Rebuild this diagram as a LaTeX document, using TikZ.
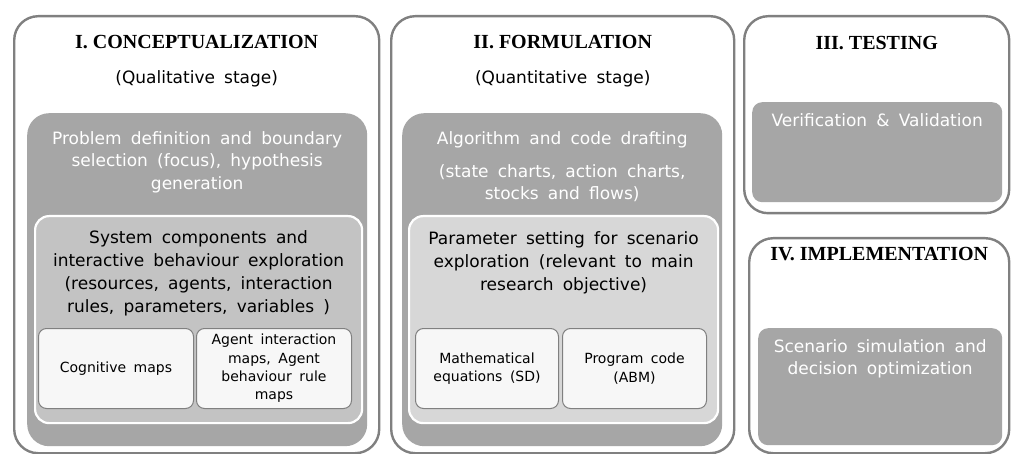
\documentclass[tikz,border=0pt]{standalone}
\usepackage{fontspec}
\setmainfont{DejaVu Sans}[WordSpace=1.7]
\newfontfamily\headfont{Liberation Serif}
\usetikzlibrary{positioning}

\definecolor{rimgray}{HTML}{808080}
\definecolor{darkfill}{HTML}{A6A6A6}
\definecolor{midfill}{HTML}{C3C3C3}
\definecolor{lightfill}{HTML}{D7D7D7}
\definecolor{leaffill}{HTML}{F7F7F7}

\begin{document}
\begin{tikzpicture}[x=1pt, y=-1pt, node distance = 20pt, on grid,
    stage/.style = {draw=rimgray, line width=2.4pt, fill=white, rounded corners=24pt,
                    anchor=north west, inner sep=0pt},
    darkbox/.style = {fill=darkfill, rounded corners=22pt, anchor=north west, inner sep=0pt},
    innerbox/.style = {draw=white, line width=2.2pt, rounded corners=14pt, anchor=north west, inner sep=0pt},
    leaf/.style = {draw=rimgray, line width=1pt, fill=leaffill, rounded corners=8pt,
                   anchor=north west, inner sep=0pt},
    heading/.style = {font=\headfont\bfseries\fontsize{20}{22}\selectfont},
    sub/.style = {font=\fontsize{17}{20}\selectfont},
    whitetext/.style = {text=white, align=center, font=\fontsize{17}{22.5}\selectfont},
    blacktext/.style = {align=center, font=\fontsize{17}{23}\selectfont},
    leaftext/.style = {align=center, font=\fontsize{14}{18.3}\selectfont}]
  \useasboundingbox (0,0) rectangle (1011,454);

  % I. conceptualization
  \node[stage, minimum width=365pt, minimum height=437pt] (p1) at (13,15) {};
  \node[darkbox, minimum width=340pt, minimum height=333pt] (g1) at (27,113) {};
  \node[innerbox, fill=midfill, minimum width=327pt, minimum height=207pt] (l1) at (34,215) {};
  \node[leaf, minimum width=155pt, minimum height=80pt] (c1) at (38,328) {};
  \node[leaf, minimum width=155pt, minimum height=80pt] (a1) at (196,328) {};
  \node[heading] (t1) [below=27pt of p1.north, anchor=center] {I. CONCEPTUALIZATION};
  \node[sub] (s1) [below=37pt of t1] {(Qualitative stage)};
  \node[whitetext] (g1txt) [below=49pt of g1.north, anchor=center] {Problem definition and boundary\\selection (focus), hypothesis\\generation};
  \node[blacktext] (l1txt) [below=58pt of l1.north, anchor=center] {System components and\\interactive behaviour exploration\\(resources, agents, interaction\\rules, parameters, variables )};
  \node[leaftext] at (c1.center) {Cognitive maps};
  \node[leaftext] at (a1.center) {Agent interaction\\maps, Agent\\behaviour rule\\maps};

  % II. formulation
  \node[stage, minimum width=343pt, minimum height=437pt] (p2) at (390,15) {};
  \node[darkbox, minimum width=320pt, minimum height=333pt] (g2) at (402,113) {};
  \node[innerbox, fill=lightfill, minimum width=309pt, minimum height=207pt] (l2) at (408,215) {};
  \node[leaf, minimum width=143pt, minimum height=80pt] (m2) at (415,328) {};
  \node[leaf, minimum width=144pt, minimum height=80pt] (b2) at (562,328) {};
  \node[heading] (t2) [below=27pt of p2.north, anchor=center] {II. FORMULATION};
  \node[sub] (s2) [below=37pt of t2] {(Quantitative stage)};
  \node[whitetext] (g2a) [below=27pt of g2.north, anchor=center] {Algorithm and code drafting};
  \node[whitetext] (g2b) [below=43pt of g2a] {(state charts, action charts,\\stocks and flows)};
  \node[blacktext] (l2txt) [below=48pt of l2.north, anchor=center] {Parameter setting for scenario\\exploration (relevant to main\\research objective)};
  \node[leaftext] at (m2.center) {Mathematical\\equations (SD)};
  \node[leaftext] at (b2.center) {Program code\\(ABM)};

  % III. testing
  \node[stage, minimum width=265pt, minimum height=197pt] (p3) at (743,15) {};
  \node[darkbox, rounded corners=10pt, minimum width=250pt, minimum height=100pt] (g3) at (752,102) {};
  \node[heading] (t3) [below=28pt of p3.north, anchor=center] {III. TESTING};
  \node[whitetext] (g3txt) [below=18pt of g3.north, anchor=center] {Verification \& Validation};

  % IV. implementation
  \node[stage, minimum width=260pt, minimum height=215pt] (p4) at (748,237) {};
  \node[darkbox, rounded corners=10pt, minimum width=244pt, minimum height=117pt] (g4) at (758,328) {};
  \node[heading] (t4) [below=17pt of p4.north, anchor=center] {IV. IMPLEMENTATION};
  \node[whitetext] (g4txt) [below=31pt of g4.north, anchor=center] {Scenario simulation and\\decision optimization};
\end{tikzpicture}
\end{document}
